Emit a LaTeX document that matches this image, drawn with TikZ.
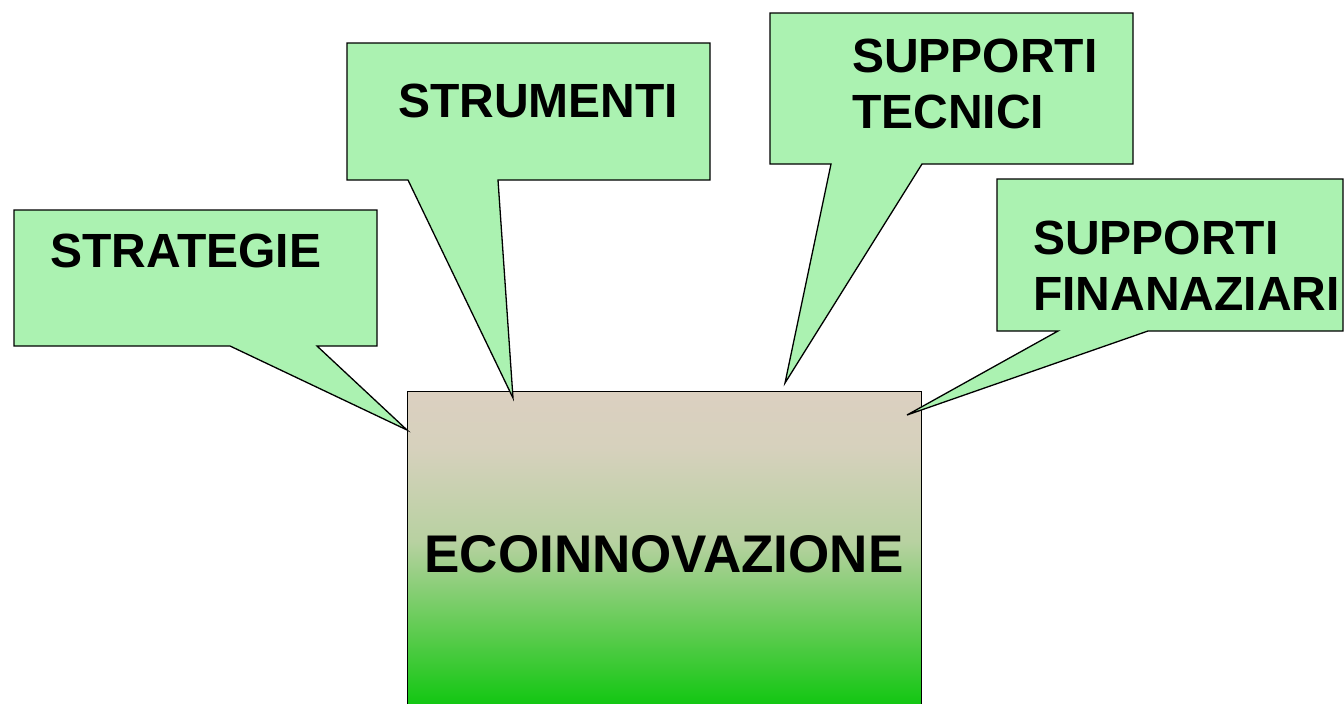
\documentclass[tikz,border=0pt]{standalone}
\usepackage{fontspec}
\setmainfont{Liberation Sans}
\definecolor{callfill}{RGB}{171,242,177}
\pgfdeclareverticalshading{ecoshade}{100bp}{%
  rgb(0bp)=(0.07,0.78,0.07);
  rgb(25bp)=(0.07,0.78,0.07);
  rgb(38bp)=(0.40,0.80,0.34);
  rgb(51bp)=(0.72,0.82,0.63);
  rgb(66bp)=(0.84,0.82,0.74);
  rgb(75bp)=(0.86,0.815,0.755);
  rgb(100bp)=(0.86,0.815,0.755)}
\tikzset{
  callout/.style={fill=callfill, draw=black, line width=1.3pt, line join=miter},
  lbl/.style={font=\fontsize{48}{56}\selectfont\bfseries, anchor=base west, inner sep=0pt},
  ecobox/.style={draw=black, line width=1.3pt, inner sep=0pt, anchor=north west,
    shading=ecoshade, minimum width=514pt, minimum height=313pt}
}
\begin{document}
\begin{tikzpicture}[x=1pt,y=-1pt]
\useasboundingbox (0,0) rectangle (1344,704);
\clip (0,0) rectangle (1344,704);
% central box
\node[ecobox] (eco) at (407,391) {};
\node[font=\fontsize{53}{60}\selectfont\bfseries, anchor=base, inner sep=0pt] (ecotext) at (664,572) {ECOINNOVAZIONE};
% tips of callouts
\coordinate (t1) at (407,430);
\coordinate (t2) at (513,398);
\coordinate (t3) at (785,383);
\coordinate (t4) at (907,415);
% callouts
\draw[callout] (14,210) -- (377,210) -- (377,346) -- (317,346) -- (t1) -- (230,346) -- (14,346) -- cycle;
\draw[callout] (347,43) -- (710,43) -- (710,180) -- (498,180) -- (t2) -- (408,180) -- (347,180) -- cycle;
\draw[callout] (770,13) -- (1133,13) -- (1133,164) -- (922,164) -- (t3) -- (831,164) -- (770,164) -- cycle;
\draw[callout] (997,179) -- (1343,179) -- (1343,331) -- (1148,331) -- (t4) -- (1058,331) -- (997,331) -- cycle;
% labels
\node[lbl] (strat) at (50,267) {STRATEGIE};
\node[lbl] (strum) at (398,117) {STRUMENTI};
\node[lbl] (tec1) at (852,72) {SUPPORTI};
\node[lbl] (tec2) at (852,128) {TECNICI};
\node[lbl] (fin1) at (1033,254) {SUPPORTI};
\node[lbl] (fin2) at (1033,310) {FINANAZIARI};
\end{tikzpicture}
\end{document}
